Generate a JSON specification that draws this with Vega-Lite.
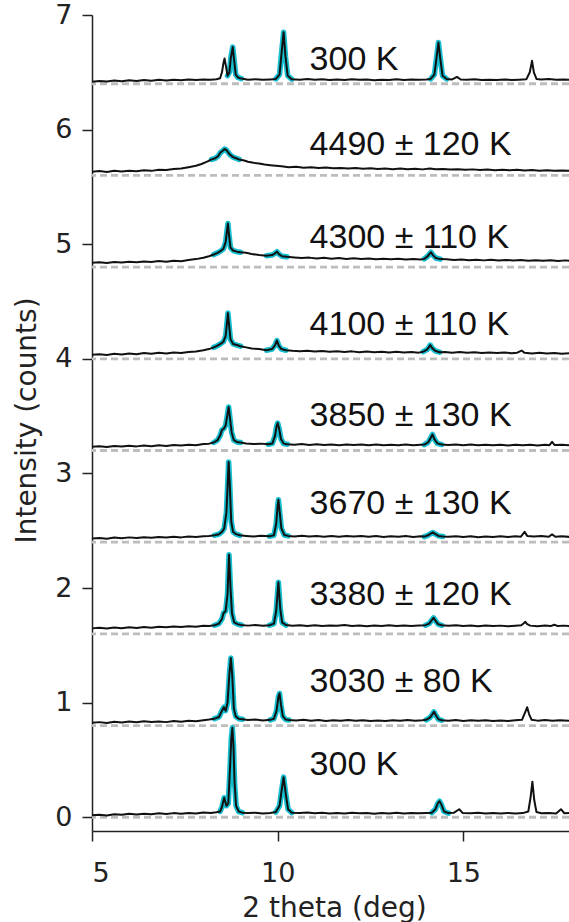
{
"$schema":"https://vega.github.io/schema/vega-lite/v6.json",
"width":477,"height":816,
"autosize":{"type":"none"},
"padding":{"left":92,"top":15,"right":0,"bottom":91},
"background":"white",
"config":{"view":{"stroke":null}},
"layer":[
{"data":{"values":[{"b":0},{"b":0.8},{"b":1.6},{"b":2.4},{"b":3.2},{"b":4.0},{"b":4.8},{"b":5.6},{"b":6.4}]},
 "mark":{"type":"rule","color":"#bdbdbd","strokeWidth":2.8,"strokeDash":[7,4]},
 "encoding":{"y":{"field":"b","type":"quantitative","scale":{"domain":[-0.12,7],"nice":false,"zero":false},
   "axis":{"values":[0,1,2,3,4,5,6,7],"format":"d","tickSize":10,"tickWidth":1.5,"tickColor":"#222","domainColor":"#222","domainWidth":1.5,"labelFont":"DejaVu Sans","labelFontSize":27,"labelColor":"#222","labelPadding":10,"grid":false,
   "title":"Intensity (counts)","titleFont":"DejaVu Sans","titleFontSize":28,"titleFontWeight":"normal","titleColor":"#222","titleX":-65,"titleY":405,"titleAngle":-90,"titleAlign":"center","titleBaseline":"middle"}}}},
{"mark":{"type":"rule","color":"#222","strokeWidth":1.5},"encoding":{"y":{"datum":7,"type":"quantitative"}}},
{"data":{"name":"traces"},
 "transform":[{"filter":"isValid(datum.g)"}],
 "mark":{"type":"line","color":"#17becf","strokeWidth":5.5,"strokeJoin":"round","strokeCap":"round"},
 "encoding":{"x":{"field":"x","type":"quantitative"},"y":{"field":"y","type":"quantitative"},"detail":{"field":"g"}}},
{"data":{"name":"traces"},
 "mark":{"type":"line","color":"#111111","strokeWidth":2,"strokeJoin":"round"},
 "encoding":{"x":{"field":"x","type":"quantitative","scale":{"domain":[5,17.846],"nice":false,"zero":false},
   "axis":{"values":[5,10,15],"tickSize":10,"tickWidth":1.5,"tickColor":"#222","domainColor":"#222","domainWidth":1.5,"labelFont":"DejaVu Sans","labelFontSize":27,"labelColor":"#222","labelPadding":19,"grid":false,
   "title":"2 theta (deg)","titleFont":"DejaVu Sans","titleFontSize":28,"titleFontWeight":"normal","titleColor":"#222","titleY":77,"titleX":242,"titleBaseline":"middle"}},
  "y":{"field":"y","type":"quantitative"},"detail":{"field":"s"}}},
{"data":{"values":[
 {"x":10.86,"y":6.52,"t":"300 K"},
 {"x":10.86,"y":5.78,"t":"4490 ± 120 K"},
 {"x":10.86,"y":4.97,"t":"4300 ± 110 K"},
 {"x":10.86,"y":4.21,"t":"4100 ± 110 K"},
 {"x":10.86,"y":3.41,"t":"3850 ± 130 K"},
 {"x":10.86,"y":2.65,"t":"3670 ± 130 K"},
 {"x":10.86,"y":1.85,"t":"3380 ± 120 K"},
 {"x":10.86,"y":1.09,"t":"3030 ± 80 K"},
 {"x":10.86,"y":0.37,"t":"300 K"}]},
 "mark":{"type":"text","align":"left","baseline":"alphabetic","font":"Liberation Sans","fontSize":34,"color":"#111"},
 "encoding":{"x":{"field":"x","type":"quantitative"},"y":{"field":"y","type":"quantitative"},"text":{"field":"t"}}}
],
"datasets":{"traces":[
{"s":0,"x":5.0,"y":0.018},{"s":0,"x":5.2,"y":0.022},{"s":0,"x":5.4,"y":0.016},{"s":0,"x":5.6,"y":0.026},{"s":0,"x":5.8,"y":0.021},{"s":0,"x":6.0,"y":0.03},{"s":0,"x":6.2,"y":0.024},{"s":0,"x":6.4,"y":0.031},{"s":0,"x":6.6,"y":0.027},{"s":0,"x":6.8,"y":0.034},{"s":0,"x":7.0,"y":0.029},{"s":0,"x":7.2,"y":0.036},{"s":0,"x":7.4,"y":0.031},{"s":0,"x":7.6,"y":0.038},{"s":0,"x":7.8,"y":0.033},{"s":0,"x":8.0,"y":0.041},{"s":0,"x":8.2,"y":0.037},{"s":0,"x":8.35,"y":0.044},
{"s":0,"x":8.45,"y":0.05,"g":"0A"},{"s":0,"x":8.5,"y":0.09,"g":"0A"},{"s":0,"x":8.56,"y":0.17,"g":"0A"},{"s":0,"x":8.62,"y":0.1,"g":"0A"},{"s":0,"x":8.67,"y":0.12,"g":"0A"},{"s":0,"x":8.72,"y":0.45,"g":"0A"},{"s":0,"x":8.75,"y":0.68,"g":"0A"},{"s":0,"x":8.78,"y":0.78,"g":"0A"},{"s":0,"x":8.81,"y":0.62,"g":"0A"},{"s":0,"x":8.84,"y":0.3,"g":"0A"},{"s":0,"x":8.88,"y":0.1,"g":"0A"},{"s":0,"x":8.95,"y":0.05,"g":"0A"},{"s":0,"x":9.05,"y":0.04,"g":"0A"},
{"s":0,"x":9.2,"y":0.036},{"s":0,"x":9.4,"y":0.04},{"s":0,"x":9.6,"y":0.033},{"s":0,"x":9.8,"y":0.038},
{"s":0,"x":9.95,"y":0.045,"g":"0B"},{"s":0,"x":10.05,"y":0.1,"g":"0B"},{"s":0,"x":10.1,"y":0.22,"g":"0B"},{"s":0,"x":10.16,"y":0.35,"g":"0B"},{"s":0,"x":10.22,"y":0.2,"g":"0B"},{"s":0,"x":10.28,"y":0.07,"g":"0B"},{"s":0,"x":10.38,"y":0.04,"g":"0B"},
{"s":0,"x":10.6,"y":0.036},{"s":0,"x":10.8,"y":0.041},{"s":0,"x":11.0,"y":0.034},{"s":0,"x":11.2,"y":0.039},{"s":0,"x":11.4,"y":0.032},{"s":0,"x":11.6,"y":0.037},{"s":0,"x":11.8,"y":0.033},{"s":0,"x":12.0,"y":0.04},{"s":0,"x":12.2,"y":0.034},{"s":0,"x":12.4,"y":0.038},{"s":0,"x":12.6,"y":0.031},{"s":0,"x":12.8,"y":0.036},{"s":0,"x":13.0,"y":0.033},{"s":0,"x":13.2,"y":0.039},{"s":0,"x":13.4,"y":0.032},{"s":0,"x":13.6,"y":0.037},{"s":0,"x":13.8,"y":0.034},{"s":0,"x":14.0,"y":0.038},
{"s":0,"x":14.15,"y":0.04,"g":"0C"},{"s":0,"x":14.25,"y":0.07,"g":"0C"},{"s":0,"x":14.31,"y":0.12,"g":"0C"},{"s":0,"x":14.36,"y":0.14,"g":"0C"},{"s":0,"x":14.41,"y":0.11,"g":"0C"},{"s":0,"x":14.48,"y":0.05,"g":"0C"},{"s":0,"x":14.6,"y":0.036,"g":"0C"},
{"s":0,"x":14.75,"y":0.04},{"s":0,"x":14.89,"y":0.07},{"s":0,"x":14.98,"y":0.038},{"s":0,"x":15.2,"y":0.035},{"s":0,"x":15.4,"y":0.039},{"s":0,"x":15.6,"y":0.032},{"s":0,"x":15.8,"y":0.036},{"s":0,"x":16.0,"y":0.033},{"s":0,"x":16.2,"y":0.038},{"s":0,"x":16.4,"y":0.033},{"s":0,"x":16.6,"y":0.036},{"s":0,"x":16.75,"y":0.05},{"s":0,"x":16.81,"y":0.17},{"s":0,"x":16.86,"y":0.31},{"s":0,"x":16.91,"y":0.15},{"s":0,"x":16.97,"y":0.045},{"s":0,"x":17.1,"y":0.035},{"s":0,"x":17.3,"y":0.038},{"s":0,"x":17.5,"y":0.033},{"s":0,"x":17.63,"y":0.07},{"s":0,"x":17.72,"y":0.035},{"s":0,"x":17.86,"y":0.037},

{"s":1,"x":5.0,"y":0.825},{"s":1,"x":5.2,"y":0.83},{"s":1,"x":5.4,"y":0.822},{"s":1,"x":5.6,"y":0.833},{"s":1,"x":5.8,"y":0.827},{"s":1,"x":6.0,"y":0.835},{"s":1,"x":6.2,"y":0.829},{"s":1,"x":6.4,"y":0.838},{"s":1,"x":6.6,"y":0.831},{"s":1,"x":6.8,"y":0.836},{"s":1,"x":7.0,"y":0.83},{"s":1,"x":7.2,"y":0.84},{"s":1,"x":7.4,"y":0.834},{"s":1,"x":7.6,"y":0.842},{"s":1,"x":7.8,"y":0.838},{"s":1,"x":8.0,"y":0.846},{"s":1,"x":8.15,"y":0.852},
{"s":1,"x":8.3,"y":0.86,"g":"1A"},{"s":1,"x":8.42,"y":0.875,"g":"1A"},{"s":1,"x":8.5,"y":0.93,"g":"1A"},{"s":1,"x":8.55,"y":0.96,"g":"1A"},{"s":1,"x":8.6,"y":0.93,"g":"1A"},{"s":1,"x":8.65,"y":1.0,"g":"1A"},{"s":1,"x":8.7,"y":1.25,"g":"1A"},{"s":1,"x":8.74,"y":1.39,"g":"1A"},{"s":1,"x":8.78,"y":1.22,"g":"1A"},{"s":1,"x":8.82,"y":0.95,"g":"1A"},{"s":1,"x":8.87,"y":0.88,"g":"1A"},{"s":1,"x":8.95,"y":0.86,"g":"1A"},{"s":1,"x":9.05,"y":0.855,"g":"1A"},
{"s":1,"x":9.2,"y":0.848},{"s":1,"x":9.4,"y":0.852},{"s":1,"x":9.6,"y":0.845},
{"s":1,"x":9.8,"y":0.85,"g":"1B"},{"s":1,"x":9.9,"y":0.86,"g":"1B"},{"s":1,"x":9.97,"y":0.93,"g":"1B"},{"s":1,"x":10.02,"y":1.05,"g":"1B"},{"s":1,"x":10.05,"y":1.08,"g":"1B"},{"s":1,"x":10.09,"y":0.98,"g":"1B"},{"s":1,"x":10.14,"y":0.88,"g":"1B"},{"s":1,"x":10.22,"y":0.852,"g":"1B"},{"s":1,"x":10.3,"y":0.848,"g":"1B"},
{"s":1,"x":10.5,"y":0.845},{"s":1,"x":10.7,"y":0.85},{"s":1,"x":10.9,"y":0.842},{"s":1,"x":11.1,"y":0.848},{"s":1,"x":11.3,"y":0.84},{"s":1,"x":11.5,"y":0.846},{"s":1,"x":11.7,"y":0.841},{"s":1,"x":11.9,"y":0.849},{"s":1,"x":12.1,"y":0.842},{"s":1,"x":12.3,"y":0.847},{"s":1,"x":12.5,"y":0.84},{"s":1,"x":12.7,"y":0.845},{"s":1,"x":12.9,"y":0.839},{"s":1,"x":13.1,"y":0.846},{"s":1,"x":13.3,"y":0.841},{"s":1,"x":13.5,"y":0.848},{"s":1,"x":13.7,"y":0.842},{"s":1,"x":13.9,"y":0.846},
{"s":1,"x":14.0,"y":0.85,"g":"1C"},{"s":1,"x":14.1,"y":0.87,"g":"1C"},{"s":1,"x":14.17,"y":0.9,"g":"1C"},{"s":1,"x":14.21,"y":0.92,"g":"1C"},{"s":1,"x":14.26,"y":0.89,"g":"1C"},{"s":1,"x":14.33,"y":0.855,"g":"1C"},{"s":1,"x":14.42,"y":0.846,"g":"1C"},
{"s":1,"x":14.6,"y":0.842},{"s":1,"x":14.8,"y":0.848},{"s":1,"x":15.0,"y":0.84},{"s":1,"x":15.2,"y":0.846},{"s":1,"x":15.4,"y":0.841},{"s":1,"x":15.6,"y":0.847},{"s":1,"x":15.8,"y":0.84},{"s":1,"x":16.0,"y":0.845},{"s":1,"x":16.2,"y":0.84},{"s":1,"x":16.4,"y":0.846},{"s":1,"x":16.58,"y":0.85},{"s":1,"x":16.67,"y":0.92},{"s":1,"x":16.72,"y":0.96},{"s":1,"x":16.77,"y":0.9},{"s":1,"x":16.84,"y":0.85},{"s":1,"x":17.0,"y":0.843},{"s":1,"x":17.2,"y":0.848},{"s":1,"x":17.4,"y":0.841},{"s":1,"x":17.6,"y":0.846},{"s":1,"x":17.86,"y":0.842},

{"s":2,"x":5.0,"y":1.648},{"s":2,"x":5.2,"y":1.653},{"s":2,"x":5.4,"y":1.646},{"s":2,"x":5.6,"y":1.656},{"s":2,"x":5.8,"y":1.65},{"s":2,"x":6.0,"y":1.658},{"s":2,"x":6.2,"y":1.652},{"s":2,"x":6.4,"y":1.66},{"s":2,"x":6.6,"y":1.654},{"s":2,"x":6.8,"y":1.662},{"s":2,"x":7.0,"y":1.657},{"s":2,"x":7.2,"y":1.664},{"s":2,"x":7.4,"y":1.659},{"s":2,"x":7.6,"y":1.667},{"s":2,"x":7.8,"y":1.662},{"s":2,"x":8.0,"y":1.67},{"s":2,"x":8.15,"y":1.668},
{"s":2,"x":8.3,"y":1.675,"g":"2A"},{"s":2,"x":8.42,"y":1.69,"g":"2A"},{"s":2,"x":8.5,"y":1.73,"g":"2A"},{"s":2,"x":8.54,"y":1.78,"g":"2A"},{"s":2,"x":8.6,"y":1.8,"g":"2A"},{"s":2,"x":8.65,"y":1.95,"g":"2A"},{"s":2,"x":8.69,"y":2.29,"g":"2A"},{"s":2,"x":8.73,"y":2.0,"g":"2A"},{"s":2,"x":8.77,"y":1.78,"g":"2A"},{"s":2,"x":8.83,"y":1.7,"g":"2A"},{"s":2,"x":8.92,"y":1.685,"g":"2A"},{"s":2,"x":9.02,"y":1.678,"g":"2A"},
{"s":2,"x":9.2,"y":1.672},{"s":2,"x":9.4,"y":1.677},{"s":2,"x":9.6,"y":1.67},
{"s":2,"x":9.78,"y":1.675,"g":"2B"},{"s":2,"x":9.9,"y":1.69,"g":"2B"},{"s":2,"x":9.96,"y":1.8,"g":"2B"},{"s":2,"x":10.02,"y":2.05,"g":"2B"},{"s":2,"x":10.07,"y":1.82,"g":"2B"},{"s":2,"x":10.12,"y":1.7,"g":"2B"},{"s":2,"x":10.22,"y":1.677,"g":"2B"},
{"s":2,"x":10.4,"y":1.671},{"s":2,"x":10.6,"y":1.676},{"s":2,"x":10.8,"y":1.669},{"s":2,"x":11.0,"y":1.675},{"s":2,"x":11.2,"y":1.668},{"s":2,"x":11.4,"y":1.674},{"s":2,"x":11.6,"y":1.67},{"s":2,"x":11.8,"y":1.677},{"s":2,"x":12.0,"y":1.669},{"s":2,"x":12.2,"y":1.674},{"s":2,"x":12.4,"y":1.667},{"s":2,"x":12.6,"y":1.673},{"s":2,"x":12.8,"y":1.668},{"s":2,"x":13.0,"y":1.675},{"s":2,"x":13.2,"y":1.669},{"s":2,"x":13.4,"y":1.674},{"s":2,"x":13.6,"y":1.668},{"s":2,"x":13.8,"y":1.673},
{"s":2,"x":13.98,"y":1.676,"g":"2C"},{"s":2,"x":14.08,"y":1.69,"g":"2C"},{"s":2,"x":14.15,"y":1.72,"g":"2C"},{"s":2,"x":14.2,"y":1.74,"g":"2C"},{"s":2,"x":14.25,"y":1.715,"g":"2C"},{"s":2,"x":14.32,"y":1.685,"g":"2C"},{"s":2,"x":14.42,"y":1.675,"g":"2C"},
{"s":2,"x":14.6,"y":1.67},{"s":2,"x":14.8,"y":1.676},{"s":2,"x":15.0,"y":1.668},{"s":2,"x":15.2,"y":1.673},{"s":2,"x":15.4,"y":1.667},{"s":2,"x":15.6,"y":1.674},{"s":2,"x":15.8,"y":1.668},{"s":2,"x":16.0,"y":1.672},{"s":2,"x":16.2,"y":1.666},{"s":2,"x":16.4,"y":1.671},{"s":2,"x":16.56,"y":1.675},{"s":2,"x":16.62,"y":1.69},{"s":2,"x":16.67,"y":1.705},{"s":2,"x":16.72,"y":1.685},{"s":2,"x":16.8,"y":1.672},{"s":2,"x":17.0,"y":1.667},{"s":2,"x":17.2,"y":1.673},{"s":2,"x":17.35,"y":1.668},{"s":2,"x":17.45,"y":1.68},{"s":2,"x":17.55,"y":1.668},{"s":2,"x":17.7,"y":1.672},{"s":2,"x":17.86,"y":1.668},

{"s":3,"x":5.0,"y":2.432},{"s":3,"x":5.2,"y":2.437},{"s":3,"x":5.4,"y":2.43},{"s":3,"x":5.6,"y":2.44},{"s":3,"x":5.8,"y":2.434},{"s":3,"x":6.0,"y":2.442},{"s":3,"x":6.2,"y":2.436},{"s":3,"x":6.4,"y":2.444},{"s":3,"x":6.6,"y":2.438},{"s":3,"x":6.8,"y":2.446},{"s":3,"x":7.0,"y":2.44},{"s":3,"x":7.2,"y":2.447},{"s":3,"x":7.4,"y":2.442},{"s":3,"x":7.6,"y":2.45},{"s":3,"x":7.8,"y":2.445},{"s":3,"x":8.0,"y":2.452},{"s":3,"x":8.15,"y":2.455},
{"s":3,"x":8.3,"y":2.46,"g":"3A"},{"s":3,"x":8.42,"y":2.47,"g":"3A"},{"s":3,"x":8.5,"y":2.49,"g":"3A"},{"s":3,"x":8.56,"y":2.52,"g":"3A"},{"s":3,"x":8.62,"y":2.66,"g":"3A"},{"s":3,"x":8.66,"y":2.95,"g":"3A"},{"s":3,"x":8.68,"y":3.1,"g":"3A"},{"s":3,"x":8.71,"y":2.9,"g":"3A"},{"s":3,"x":8.75,"y":2.58,"g":"3A"},{"s":3,"x":8.8,"y":2.49,"g":"3A"},{"s":3,"x":8.88,"y":2.47,"g":"3A"},{"s":3,"x":8.98,"y":2.46,"g":"3A"},
{"s":3,"x":9.15,"y":2.455},{"s":3,"x":9.35,"y":2.45},{"s":3,"x":9.55,"y":2.457},
{"s":3,"x":9.78,"y":2.452,"g":"3B"},{"s":3,"x":9.9,"y":2.46,"g":"3B"},{"s":3,"x":9.96,"y":2.56,"g":"3B"},{"s":3,"x":10.0,"y":2.72,"g":"3B"},{"s":3,"x":10.02,"y":2.77,"g":"3B"},{"s":3,"x":10.05,"y":2.68,"g":"3B"},{"s":3,"x":10.1,"y":2.52,"g":"3B"},{"s":3,"x":10.18,"y":2.462,"g":"3B"},{"s":3,"x":10.28,"y":2.455,"g":"3B"},
{"s":3,"x":10.45,"y":2.45},{"s":3,"x":10.65,"y":2.456},{"s":3,"x":10.85,"y":2.449},{"s":3,"x":11.05,"y":2.455},{"s":3,"x":11.25,"y":2.448},{"s":3,"x":11.45,"y":2.454},{"s":3,"x":11.65,"y":2.447},{"s":3,"x":11.85,"y":2.453},{"s":3,"x":12.05,"y":2.449},{"s":3,"x":12.25,"y":2.455},{"s":3,"x":12.45,"y":2.448},{"s":3,"x":12.65,"y":2.453},{"s":3,"x":12.85,"y":2.446},{"s":3,"x":13.05,"y":2.452},{"s":3,"x":13.25,"y":2.447},{"s":3,"x":13.45,"y":2.453},{"s":3,"x":13.65,"y":2.446},{"s":3,"x":13.85,"y":2.451},
{"s":3,"x":13.95,"y":2.449,"g":"3C"},{"s":3,"x":14.05,"y":2.46,"g":"3C"},{"s":3,"x":14.12,"y":2.475,"g":"3C"},{"s":3,"x":14.18,"y":2.485,"g":"3C"},{"s":3,"x":14.24,"y":2.472,"g":"3C"},{"s":3,"x":14.33,"y":2.455,"g":"3C"},{"s":3,"x":14.45,"y":2.45,"g":"3C"},
{"s":3,"x":14.6,"y":2.447},{"s":3,"x":14.8,"y":2.452},{"s":3,"x":15.0,"y":2.445},{"s":3,"x":15.2,"y":2.451},{"s":3,"x":15.4,"y":2.444},{"s":3,"x":15.6,"y":2.45},{"s":3,"x":15.8,"y":2.445},{"s":3,"x":16.0,"y":2.451},{"s":3,"x":16.2,"y":2.446},{"s":3,"x":16.4,"y":2.452},{"s":3,"x":16.55,"y":2.448},{"s":3,"x":16.65,"y":2.49},{"s":3,"x":16.72,"y":2.455},{"s":3,"x":16.9,"y":2.449},{"s":3,"x":17.1,"y":2.454},{"s":3,"x":17.3,"y":2.447},{"s":3,"x":17.39,"y":2.468},{"s":3,"x":17.48,"y":2.447},{"s":3,"x":17.65,"y":2.452},{"s":3,"x":17.86,"y":2.446},

{"s":4,"x":5.0,"y":3.232},{"s":4,"x":5.2,"y":3.237},{"s":4,"x":5.4,"y":3.23},{"s":4,"x":5.6,"y":3.24},{"s":4,"x":5.8,"y":3.234},{"s":4,"x":6.0,"y":3.242},{"s":4,"x":6.2,"y":3.236},{"s":4,"x":6.4,"y":3.244},{"s":4,"x":6.6,"y":3.238},{"s":4,"x":6.8,"y":3.246},{"s":4,"x":7.0,"y":3.24},{"s":4,"x":7.2,"y":3.248},{"s":4,"x":7.4,"y":3.243},{"s":4,"x":7.6,"y":3.25},{"s":4,"x":7.8,"y":3.246},{"s":4,"x":8.0,"y":3.256},{"s":4,"x":8.15,"y":3.26},
{"s":4,"x":8.28,"y":3.27,"g":"4A"},{"s":4,"x":8.38,"y":3.29,"g":"4A"},{"s":4,"x":8.45,"y":3.33,"g":"4A"},{"s":4,"x":8.5,"y":3.38,"g":"4A"},{"s":4,"x":8.55,"y":3.39,"g":"4A"},{"s":4,"x":8.6,"y":3.42,"g":"4A"},{"s":4,"x":8.65,"y":3.52,"g":"4A"},{"s":4,"x":8.68,"y":3.58,"g":"4A"},{"s":4,"x":8.71,"y":3.5,"g":"4A"},{"s":4,"x":8.76,"y":3.36,"g":"4A"},{"s":4,"x":8.82,"y":3.29,"g":"4A"},{"s":4,"x":8.9,"y":3.275,"g":"4A"},{"s":4,"x":9.0,"y":3.27,"g":"4A"},
{"s":4,"x":9.15,"y":3.262},{"s":4,"x":9.35,"y":3.256},{"s":4,"x":9.55,"y":3.26},
{"s":4,"x":9.75,"y":3.254,"g":"4B"},{"s":4,"x":9.86,"y":3.262,"g":"4B"},{"s":4,"x":9.93,"y":3.33,"g":"4B"},{"s":4,"x":9.97,"y":3.41,"g":"4B"},{"s":4,"x":10.0,"y":3.44,"g":"4B"},{"s":4,"x":10.04,"y":3.39,"g":"4B"},{"s":4,"x":10.09,"y":3.3,"g":"4B"},{"s":4,"x":10.16,"y":3.26,"g":"4B"},{"s":4,"x":10.26,"y":3.255,"g":"4B"},
{"s":4,"x":10.45,"y":3.25},{"s":4,"x":10.65,"y":3.256},{"s":4,"x":10.85,"y":3.248},{"s":4,"x":11.05,"y":3.254},{"s":4,"x":11.25,"y":3.247},{"s":4,"x":11.45,"y":3.253},{"s":4,"x":11.65,"y":3.246},{"s":4,"x":11.85,"y":3.252},{"s":4,"x":12.05,"y":3.247},{"s":4,"x":12.25,"y":3.253},{"s":4,"x":12.45,"y":3.246},{"s":4,"x":12.65,"y":3.252},{"s":4,"x":12.85,"y":3.245},{"s":4,"x":13.05,"y":3.251},{"s":4,"x":13.25,"y":3.246},{"s":4,"x":13.45,"y":3.252},{"s":4,"x":13.65,"y":3.245},{"s":4,"x":13.85,"y":3.25},
{"s":4,"x":13.95,"y":3.252,"g":"4C"},{"s":4,"x":14.05,"y":3.27,"g":"4C"},{"s":4,"x":14.12,"y":3.31,"g":"4C"},{"s":4,"x":14.17,"y":3.34,"g":"4C"},{"s":4,"x":14.22,"y":3.3,"g":"4C"},{"s":4,"x":14.3,"y":3.262,"g":"4C"},{"s":4,"x":14.42,"y":3.252,"g":"4C"},
{"s":4,"x":14.6,"y":3.248},{"s":4,"x":14.8,"y":3.253},{"s":4,"x":15.0,"y":3.246},{"s":4,"x":15.2,"y":3.252},{"s":4,"x":15.4,"y":3.245},{"s":4,"x":15.6,"y":3.251},{"s":4,"x":15.8,"y":3.245},{"s":4,"x":16.0,"y":3.25},{"s":4,"x":16.2,"y":3.244},{"s":4,"x":16.4,"y":3.25},{"s":4,"x":16.6,"y":3.245},{"s":4,"x":16.8,"y":3.25},{"s":4,"x":17.0,"y":3.244},{"s":4,"x":17.2,"y":3.25},{"s":4,"x":17.32,"y":3.246},{"s":4,"x":17.39,"y":3.275},{"s":4,"x":17.46,"y":3.247},{"s":4,"x":17.65,"y":3.251},{"s":4,"x":17.86,"y":3.245},

{"s":5,"x":5.0,"y":4.035},{"s":5,"x":5.2,"y":4.04},{"s":5,"x":5.4,"y":4.034},{"s":5,"x":5.6,"y":4.044},{"s":5,"x":5.8,"y":4.038},{"s":5,"x":6.0,"y":4.046},{"s":5,"x":6.2,"y":4.04},{"s":5,"x":6.4,"y":4.05},{"s":5,"x":6.6,"y":4.044},{"s":5,"x":6.8,"y":4.052},{"s":5,"x":7.0,"y":4.047},{"s":5,"x":7.2,"y":4.055},{"s":5,"x":7.4,"y":4.05},{"s":5,"x":7.6,"y":4.06},{"s":5,"x":7.8,"y":4.064},{"s":5,"x":8.0,"y":4.075},{"s":5,"x":8.15,"y":4.085},
{"s":5,"x":8.28,"y":4.1,"g":"5A"},{"s":5,"x":8.38,"y":4.115,"g":"5A"},{"s":5,"x":8.46,"y":4.13,"g":"5A"},{"s":5,"x":8.54,"y":4.15,"g":"5A"},{"s":5,"x":8.6,"y":4.2,"g":"5A"},{"s":5,"x":8.64,"y":4.33,"g":"5A"},{"s":5,"x":8.66,"y":4.4,"g":"5A"},{"s":5,"x":8.69,"y":4.3,"g":"5A"},{"s":5,"x":8.73,"y":4.17,"g":"5A"},{"s":5,"x":8.8,"y":4.13,"g":"5A"},{"s":5,"x":8.9,"y":4.12,"g":"5A"},{"s":5,"x":9.0,"y":4.11,"g":"5A"},
{"s":5,"x":9.15,"y":4.1},{"s":5,"x":9.3,"y":4.09},{"s":5,"x":9.5,"y":4.085},
{"s":5,"x":9.7,"y":4.075,"g":"5B"},{"s":5,"x":9.85,"y":4.085,"g":"5B"},{"s":5,"x":9.93,"y":4.12,"g":"5B"},{"s":5,"x":9.98,"y":4.16,"g":"5B"},{"s":5,"x":10.03,"y":4.115,"g":"5B"},{"s":5,"x":10.1,"y":4.085,"g":"5B"},{"s":5,"x":10.22,"y":4.075,"g":"5B"},
{"s":5,"x":10.4,"y":4.07},{"s":5,"x":10.6,"y":4.066},{"s":5,"x":10.8,"y":4.07},{"s":5,"x":11.0,"y":4.063},{"s":5,"x":11.2,"y":4.068},{"s":5,"x":11.4,"y":4.061},{"s":5,"x":11.6,"y":4.066},{"s":5,"x":11.8,"y":4.06},{"s":5,"x":12.0,"y":4.065},{"s":5,"x":12.2,"y":4.058},{"s":5,"x":12.4,"y":4.063},{"s":5,"x":12.6,"y":4.057},{"s":5,"x":12.8,"y":4.062},{"s":5,"x":13.0,"y":4.056},{"s":5,"x":13.2,"y":4.061},{"s":5,"x":13.4,"y":4.055},{"s":5,"x":13.6,"y":4.06},{"s":5,"x":13.8,"y":4.054},
{"s":5,"x":13.92,"y":4.062,"g":"5C"},{"s":5,"x":14.02,"y":4.08,"g":"5C"},{"s":5,"x":14.07,"y":4.1,"g":"5C"},{"s":5,"x":14.11,"y":4.12,"g":"5C"},{"s":5,"x":14.16,"y":4.095,"g":"5C"},{"s":5,"x":14.24,"y":4.07,"g":"5C"},{"s":5,"x":14.36,"y":4.058,"g":"5C"},
{"s":5,"x":14.5,"y":4.06},{"s":5,"x":14.7,"y":4.054},{"s":5,"x":14.9,"y":4.059},{"s":5,"x":15.1,"y":4.052},{"s":5,"x":15.3,"y":4.057},{"s":5,"x":15.5,"y":4.051},{"s":5,"x":15.7,"y":4.056},{"s":5,"x":15.9,"y":4.05},{"s":5,"x":16.1,"y":4.055},{"s":5,"x":16.3,"y":4.049},{"s":5,"x":16.45,"y":4.054},{"s":5,"x":16.57,"y":4.072},{"s":5,"x":16.65,"y":4.052},{"s":5,"x":16.85,"y":4.047},{"s":5,"x":17.05,"y":4.052},{"s":5,"x":17.25,"y":4.046},{"s":5,"x":17.45,"y":4.051},{"s":5,"x":17.65,"y":4.045},{"s":5,"x":17.86,"y":4.049},

{"s":6,"x":5.0,"y":4.838},{"s":6,"x":5.2,"y":4.843},{"s":6,"x":5.4,"y":4.836},{"s":6,"x":5.6,"y":4.845},{"s":6,"x":5.8,"y":4.84},{"s":6,"x":6.0,"y":4.848},{"s":6,"x":6.2,"y":4.842},{"s":6,"x":6.4,"y":4.85},{"s":6,"x":6.6,"y":4.845},{"s":6,"x":6.8,"y":4.853},{"s":6,"x":7.0,"y":4.848},{"s":6,"x":7.2,"y":4.856},{"s":6,"x":7.4,"y":4.852},{"s":6,"x":7.6,"y":4.862},{"s":6,"x":7.8,"y":4.87},{"s":6,"x":8.0,"y":4.882},{"s":6,"x":8.15,"y":4.895},
{"s":6,"x":8.28,"y":4.91,"g":"6A"},{"s":6,"x":8.38,"y":4.925,"g":"6A"},{"s":6,"x":8.46,"y":4.94,"g":"6A"},{"s":6,"x":8.54,"y":4.96,"g":"6A"},{"s":6,"x":8.6,"y":5.02,"g":"6A"},{"s":6,"x":8.64,"y":5.13,"g":"6A"},{"s":6,"x":8.66,"y":5.18,"g":"6A"},{"s":6,"x":8.69,"y":5.08,"g":"6A"},{"s":6,"x":8.73,"y":4.97,"g":"6A"},{"s":6,"x":8.8,"y":4.945,"g":"6A"},{"s":6,"x":8.9,"y":4.935,"g":"6A"},{"s":6,"x":9.0,"y":4.93,"g":"6A"},
{"s":6,"x":9.15,"y":4.925},{"s":6,"x":9.3,"y":4.915},{"s":6,"x":9.5,"y":4.905},
{"s":6,"x":9.7,"y":4.9,"g":"6B"},{"s":6,"x":9.85,"y":4.905,"g":"6B"},{"s":6,"x":9.93,"y":4.92,"g":"6B"},{"s":6,"x":9.98,"y":4.935,"g":"6B"},{"s":6,"x":10.04,"y":4.912,"g":"6B"},{"s":6,"x":10.12,"y":4.895,"g":"6B"},{"s":6,"x":10.25,"y":4.89,"g":"6B"},
{"s":6,"x":10.45,"y":4.885},{"s":6,"x":10.65,"y":4.879},{"s":6,"x":10.85,"y":4.883},{"s":6,"x":11.05,"y":4.876},{"s":6,"x":11.25,"y":4.881},{"s":6,"x":11.45,"y":4.874},{"s":6,"x":11.65,"y":4.879},{"s":6,"x":11.85,"y":4.872},{"s":6,"x":12.05,"y":4.877},{"s":6,"x":12.25,"y":4.871},{"s":6,"x":12.45,"y":4.876},{"s":6,"x":12.65,"y":4.869},{"s":6,"x":12.85,"y":4.874},{"s":6,"x":13.05,"y":4.868},{"s":6,"x":13.25,"y":4.873},{"s":6,"x":13.45,"y":4.867},{"s":6,"x":13.65,"y":4.872},{"s":6,"x":13.85,"y":4.866},
{"s":6,"x":13.95,"y":4.872,"g":"6C"},{"s":6,"x":14.04,"y":4.895,"g":"6C"},{"s":6,"x":14.09,"y":4.915,"g":"6C"},{"s":6,"x":14.13,"y":4.93,"g":"6C"},{"s":6,"x":14.18,"y":4.905,"g":"6C"},{"s":6,"x":14.26,"y":4.88,"g":"6C"},{"s":6,"x":14.38,"y":4.87,"g":"6C"},
{"s":6,"x":14.55,"y":4.868},{"s":6,"x":14.75,"y":4.862},{"s":6,"x":14.95,"y":4.867},{"s":6,"x":15.15,"y":4.86},{"s":6,"x":15.35,"y":4.865},{"s":6,"x":15.55,"y":4.859},{"s":6,"x":15.75,"y":4.864},{"s":6,"x":15.95,"y":4.858},{"s":6,"x":16.15,"y":4.863},{"s":6,"x":16.35,"y":4.857},{"s":6,"x":16.55,"y":4.862},{"s":6,"x":16.75,"y":4.856},{"s":6,"x":16.95,"y":4.861},{"s":6,"x":17.15,"y":4.855},{"s":6,"x":17.35,"y":4.86},{"s":6,"x":17.55,"y":4.854},{"s":6,"x":17.75,"y":4.859},{"s":6,"x":17.86,"y":4.855},

{"s":7,"x":5.0,"y":5.632},{"s":7,"x":5.2,"y":5.638},{"s":7,"x":5.4,"y":5.631},{"s":7,"x":5.6,"y":5.64},{"s":7,"x":5.8,"y":5.634},{"s":7,"x":6.0,"y":5.642},{"s":7,"x":6.2,"y":5.637},{"s":7,"x":6.4,"y":5.645},{"s":7,"x":6.6,"y":5.64},{"s":7,"x":6.8,"y":5.65},{"s":7,"x":7.0,"y":5.648},{"s":7,"x":7.2,"y":5.656},{"s":7,"x":7.4,"y":5.66},{"s":7,"x":7.6,"y":5.672},{"s":7,"x":7.8,"y":5.685},{"s":7,"x":7.95,"y":5.7},{"s":7,"x":8.1,"y":5.72},
{"s":7,"x":8.22,"y":5.74,"g":"7A"},{"s":7,"x":8.32,"y":5.75,"g":"7A"},{"s":7,"x":8.4,"y":5.77,"g":"7A"},{"s":7,"x":8.46,"y":5.8,"g":"7A"},{"s":7,"x":8.52,"y":5.815,"g":"7A"},{"s":7,"x":8.57,"y":5.83,"g":"7A"},{"s":7,"x":8.62,"y":5.822,"g":"7A"},{"s":7,"x":8.67,"y":5.8,"g":"7A"},{"s":7,"x":8.72,"y":5.78,"g":"7A"},{"s":7,"x":8.8,"y":5.76,"g":"7A"},{"s":7,"x":8.88,"y":5.75,"g":"7A"},{"s":7,"x":8.96,"y":5.74,"g":"7A"},
{"s":7,"x":9.1,"y":5.73},{"s":7,"x":9.2,"y":5.72},{"s":7,"x":9.35,"y":5.71},{"s":7,"x":9.5,"y":5.705},{"s":7,"x":9.65,"y":5.695},{"s":7,"x":9.8,"y":5.69},{"s":7,"x":9.95,"y":5.685},{"s":7,"x":10.1,"y":5.68},{"s":7,"x":10.3,"y":5.672},{"s":7,"x":10.5,"y":5.676},{"s":7,"x":10.7,"y":5.668},{"s":7,"x":10.9,"y":5.672},{"s":7,"x":11.1,"y":5.665},{"s":7,"x":11.3,"y":5.669},{"s":7,"x":11.5,"y":5.662},{"s":7,"x":11.7,"y":5.666},{"s":7,"x":11.9,"y":5.66},{"s":7,"x":12.1,"y":5.664},{"s":7,"x":12.3,"y":5.658},{"s":7,"x":12.5,"y":5.663},{"s":7,"x":12.7,"y":5.657},{"s":7,"x":12.9,"y":5.661},{"s":7,"x":13.1,"y":5.655},{"s":7,"x":13.3,"y":5.66},{"s":7,"x":13.5,"y":5.654},{"s":7,"x":13.7,"y":5.659},{"s":7,"x":13.9,"y":5.653},{"s":7,"x":14.1,"y":5.66},{"s":7,"x":14.25,"y":5.654},{"s":7,"x":14.45,"y":5.657},{"s":7,"x":14.65,"y":5.651},{"s":7,"x":14.85,"y":5.655},{"s":7,"x":15.05,"y":5.649},{"s":7,"x":15.25,"y":5.653},{"s":7,"x":15.45,"y":5.647},{"s":7,"x":15.65,"y":5.652},{"s":7,"x":15.85,"y":5.646},{"s":7,"x":16.05,"y":5.65},{"s":7,"x":16.25,"y":5.645},{"s":7,"x":16.45,"y":5.649},{"s":7,"x":16.65,"y":5.643},{"s":7,"x":16.85,"y":5.647},{"s":7,"x":17.05,"y":5.642},{"s":7,"x":17.25,"y":5.646},{"s":7,"x":17.45,"y":5.64},{"s":7,"x":17.65,"y":5.644},{"s":7,"x":17.86,"y":5.64},

{"s":8,"x":5.0,"y":6.418},{"s":8,"x":5.2,"y":6.424},{"s":8,"x":5.4,"y":6.42},{"s":8,"x":5.6,"y":6.428},{"s":8,"x":5.8,"y":6.422},{"s":8,"x":6.0,"y":6.43},{"s":8,"x":6.2,"y":6.425},{"s":8,"x":6.4,"y":6.433},{"s":8,"x":6.6,"y":6.427},{"s":8,"x":6.8,"y":6.434},{"s":8,"x":7.0,"y":6.429},{"s":8,"x":7.2,"y":6.436},{"s":8,"x":7.4,"y":6.43},{"s":8,"x":7.6,"y":6.437},{"s":8,"x":7.8,"y":6.432},{"s":8,"x":8.0,"y":6.438},{"s":8,"x":8.2,"y":6.434},{"s":8,"x":8.35,"y":6.44},{"s":8,"x":8.45,"y":6.448},{"s":8,"x":8.5,"y":6.5},{"s":8,"x":8.54,"y":6.58},{"s":8,"x":8.57,"y":6.62},{"s":8,"x":8.61,"y":6.55},
{"s":8,"x":8.65,"y":6.47,"g":"8A"},{"s":8,"x":8.7,"y":6.5,"g":"8A"},{"s":8,"x":8.74,"y":6.63,"g":"8A"},{"s":8,"x":8.79,"y":6.72,"g":"8A"},{"s":8,"x":8.83,"y":6.6,"g":"8A"},{"s":8,"x":8.87,"y":6.48,"g":"8A"},{"s":8,"x":8.93,"y":6.455,"g":"8A"},{"s":8,"x":9.02,"y":6.445,"g":"8A"},
{"s":8,"x":9.2,"y":6.436},{"s":8,"x":9.4,"y":6.44},{"s":8,"x":9.6,"y":6.434},{"s":8,"x":9.8,"y":6.438},
{"s":8,"x":9.95,"y":6.442,"g":"8B"},{"s":8,"x":10.05,"y":6.48,"g":"8B"},{"s":8,"x":10.1,"y":6.65,"g":"8B"},{"s":8,"x":10.16,"y":6.85,"g":"8B"},{"s":8,"x":10.21,"y":6.64,"g":"8B"},{"s":8,"x":10.27,"y":6.47,"g":"8B"},{"s":8,"x":10.38,"y":6.44,"g":"8B"},
{"s":8,"x":10.6,"y":6.436},{"s":8,"x":10.8,"y":6.441},{"s":8,"x":11.0,"y":6.434},{"s":8,"x":11.2,"y":6.439},{"s":8,"x":11.4,"y":6.432},{"s":8,"x":11.6,"y":6.437},{"s":8,"x":11.8,"y":6.433},{"s":8,"x":12.0,"y":6.44},{"s":8,"x":12.2,"y":6.434},{"s":8,"x":12.4,"y":6.438},{"s":8,"x":12.6,"y":6.431},{"s":8,"x":12.8,"y":6.436},{"s":8,"x":13.0,"y":6.433},{"s":8,"x":13.2,"y":6.439},{"s":8,"x":13.4,"y":6.432},{"s":8,"x":13.6,"y":6.437},{"s":8,"x":13.8,"y":6.434},{"s":8,"x":14.0,"y":6.438},
{"s":8,"x":14.12,"y":6.442,"g":"8C"},{"s":8,"x":14.22,"y":6.48,"g":"8C"},{"s":8,"x":14.28,"y":6.63,"g":"8C"},{"s":8,"x":14.33,"y":6.76,"g":"8C"},{"s":8,"x":14.38,"y":6.62,"g":"8C"},{"s":8,"x":14.44,"y":6.47,"g":"8C"},{"s":8,"x":14.55,"y":6.442,"g":"8C"},
{"s":8,"x":14.7,"y":6.438},{"s":8,"x":14.83,"y":6.46},{"s":8,"x":14.93,"y":6.437},{"s":8,"x":15.1,"y":6.435},{"s":8,"x":15.3,"y":6.439},{"s":8,"x":15.5,"y":6.432},{"s":8,"x":15.7,"y":6.436},{"s":8,"x":15.9,"y":6.433},{"s":8,"x":16.1,"y":6.438},{"s":8,"x":16.3,"y":6.433},{"s":8,"x":16.5,"y":6.436},{"s":8,"x":16.7,"y":6.44},{"s":8,"x":16.79,"y":6.5},{"s":8,"x":16.85,"y":6.6},{"s":8,"x":16.9,"y":6.5},{"s":8,"x":16.97,"y":6.442},{"s":8,"x":17.1,"y":6.437},{"s":8,"x":17.3,"y":6.441},{"s":8,"x":17.5,"y":6.434},{"s":8,"x":17.7,"y":6.438},{"s":8,"x":17.86,"y":6.435}
]}
}
